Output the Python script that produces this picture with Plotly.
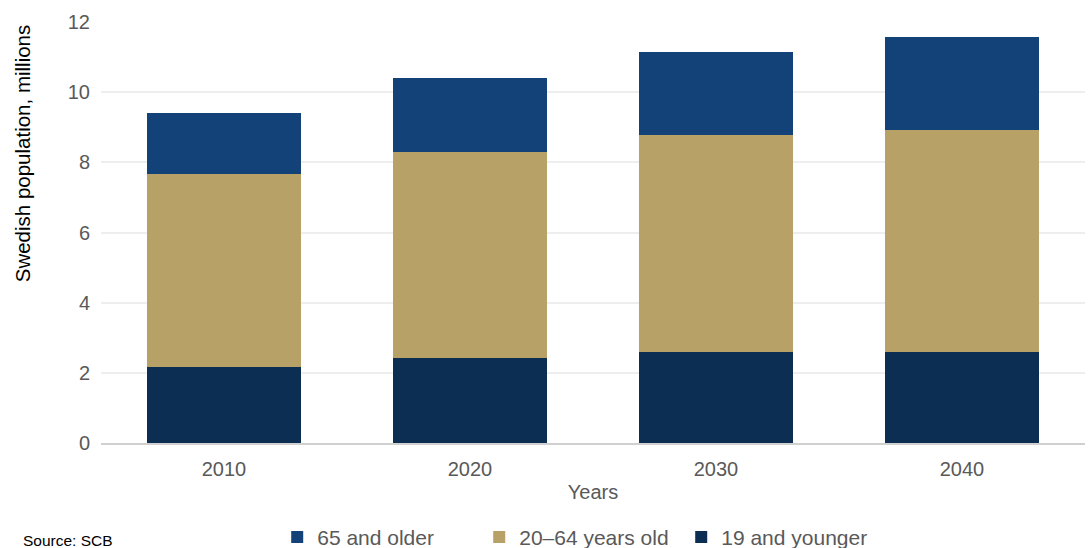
import plotly.graph_objects as go

years = ["2010", "2020", "2030", "2040"]
young = [2.17, 2.43, 2.59, 2.60]
working = [5.50, 5.87, 6.18, 6.33]
older = [1.73, 2.10, 2.38, 2.64]

names = ["19 and younger", "20–64 years old", "65 and older"]
colors = ["#0d2e53", "#b8a167", "#134278"]

fig = go.Figure()
for name, vals, col in zip(names, [young, working, older], colors):
    fig.add_trace(go.Bar(x=years, y=vals, name=name, marker_color=col,
                         marker_line_width=0))

font_fam = "Liberation Sans, Arial, sans-serif"
fig.update_layout(
    width=1089, height=548,
    barmode="stack", bargap=0.374,
    plot_bgcolor="white", paper_bgcolor="white",
    margin=dict(l=101, r=4, t=22, b=105, autoexpand=False),
    font=dict(family=font_fam, size=20, color="#595959"),
    xaxis=dict(title=dict(text="Years", standoff=6, font=dict(size=20, color="#595959")),
               showline=True, linecolor="#d0d0d0", linewidth=2,
               ticks="", ticklabelstandoff=7, tickfont=dict(size=20, color="#595959")),
    yaxis=dict(range=[0, 12], dtick=2, showgrid=True, gridcolor="#eeeeee",
               gridwidth=2, zeroline=False, ticklabelstandoff=10,
               tickfont=dict(size=20, color="#595959")),
    legend=dict(orientation="h", traceorder="reversed", x=0.487, xanchor="center",
                y=-0.224, yanchor="middle", font=dict(size=21, color="#595959"),
                entrywidth=157),
    showlegend=True,
)
# y-axis title placed near the top as in the reference
fig.add_annotation(text="Swedish population, millions", xref="paper", yref="paper",
                   x=-0.080, y=1.0, xanchor="center", yanchor="top", textangle=-90,
                   showarrow=False, font=dict(size=20.5, color="#000000", family=font_fam))
fig.add_annotation(text="Source: SCB", xref="paper", yref="paper",
                   x=-0.081, y=-0.232, xanchor="left", yanchor="middle",
                   showarrow=False, font=dict(size=15.5, color="#000000", family=font_fam))
fig.write_html("out.html")
